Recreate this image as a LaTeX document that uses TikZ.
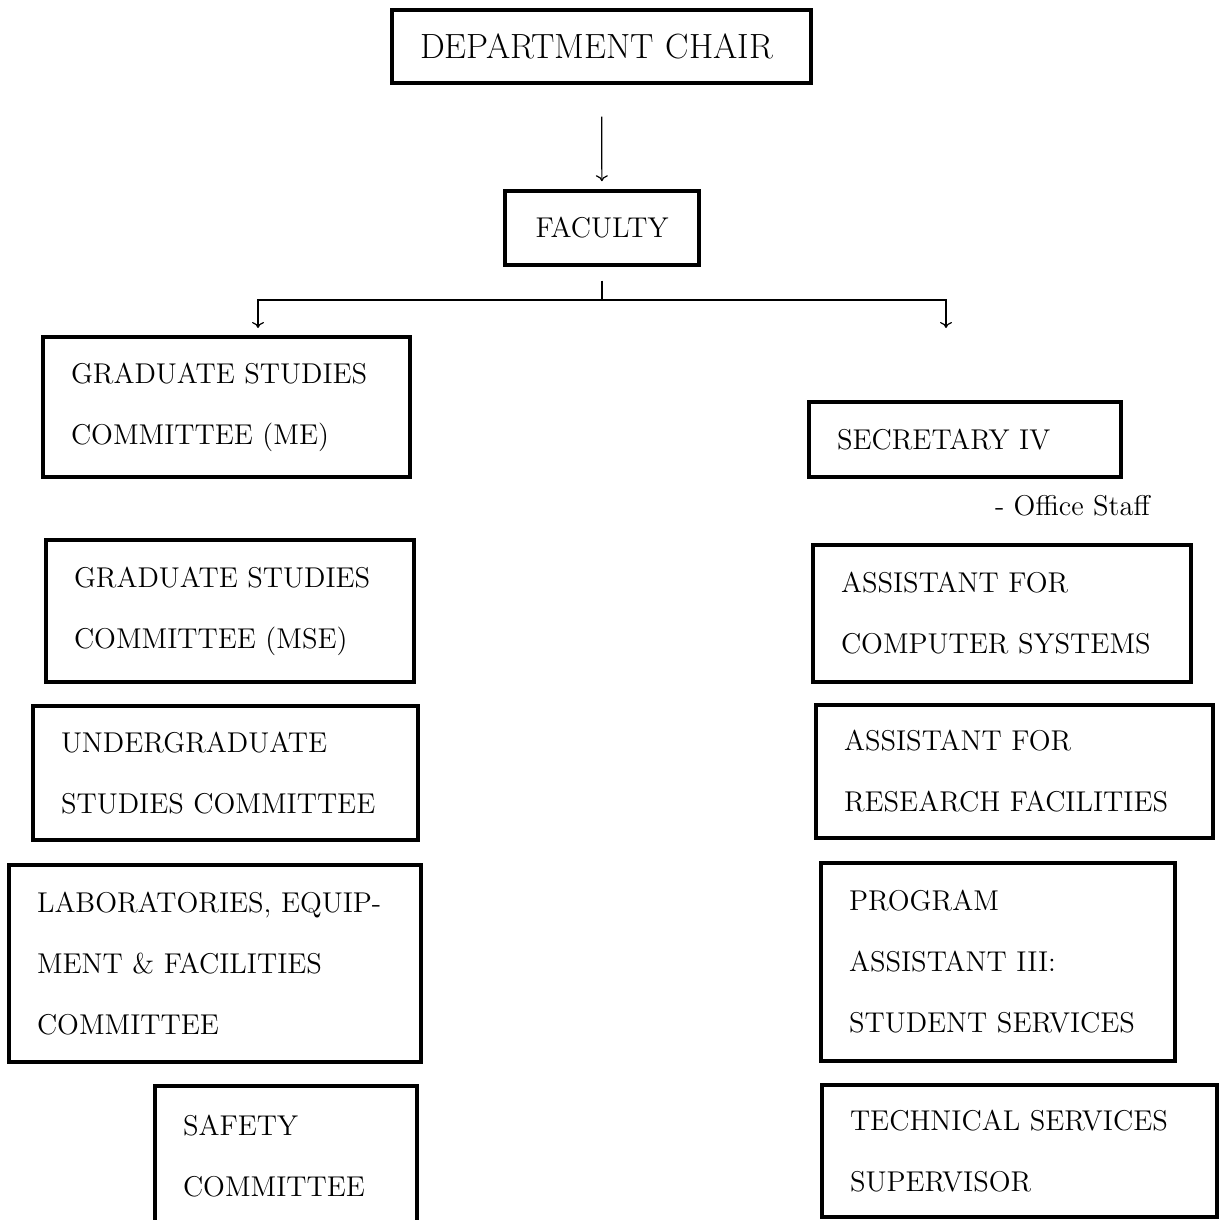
\documentclass[tikz,border=0pt]{standalone}
\usepackage{tikz}
\usetikzlibrary{arrows.meta,positioning}

\begin{document}
\begin{tikzpicture}[
  x=0.5pt, y=-0.5pt,
  font=\fontsize{14.3}{30.5}\selectfont,
  box/.style={draw, line width=1.75pt, align=left, inner xsep=14pt, inner ysep=0pt},
  head/.style={draw, line width=1.75pt, align=center},
  link/.style={line width=0.6pt},
  arr/.style={-{To[length=3pt,width=6pt]}, line width=0.6pt}
]
\useasboundingbox (0,0) rectangle (1224,1219);
\node[box, text width=181.5pt, minimum height=36.5pt, font=\fontsize{17.5}{20}\selectfont] (chair) at (601.5,46.5) {DEPARTMENT CHAIR};
\node[head, minimum width=97pt, minimum height=37pt] (faculty) at (602,228) {FACULTY};
% left column
\node[box, text width=155.5pt, minimum height=70pt] (gradme) at (226.5,407) {GRADUATE STUDIES\\COMMITTEE (ME)};
\node[box, text width=156pt, minimum height=71pt] (gradmse) at (230,611) {GRADUATE STUDIES\\COMMITTEE (MSE)};
\node[box, text width=164.5pt, minimum height=67pt] (undergrad) at (225.5,773) {UNDERGRADUATE\\STUDIES COMMITTEE};
\node[box, text width=178pt, minimum height=98.5pt] (labs) at (215,963.5) {LABORATORIES, EQUIP-\\MENT \& FACILITIES\\COMMITTEE};
\node[box, text width=103pt, minimum height=70pt] (safety) at (286,1156) {SAFETY\\COMMITTEE};
% right column
\node[box, text width=128pt, minimum height=37.5pt] (secretary) at (965,439.5) {SECRETARY IV};
\node[anchor=base west] (staff) at (988,515) {- Office Staff};
\node[box, text width=161pt, minimum height=68.5pt] (computer) at (1002,613.5) {ASSISTANT FOR\\COMPUTER SYSTEMS};
\node[box, text width=170.5pt, minimum height=66.5pt] (research) at (1014.5,771.5) {ASSISTANT FOR\\RESEARCH FACILITIES};
\node[box, text width=149pt, minimum height=99pt] (program) at (998,962) {PROGRAM\\ASSISTANT III:\\STUDENT SERVICES};
\node[box, text width=169.5pt, minimum height=66pt] (technical) at (1019.5,1151) {TECHNICAL SERVICES\\SUPERVISOR};
% connectors
\coordinate (fork) at (602,300);
\coordinate (leftend) at (258,328);
\coordinate (rightend) at (946,328);
\draw[arr, shorten <=16pt, shorten >=4pt] (chair) -- (faculty);
\draw[link, shorten <=7pt] (faculty) -- (fork);
\draw[arr] (fork) -| (leftend);
\draw[arr] (fork) -| (rightend);
\end{tikzpicture}
\end{document}
